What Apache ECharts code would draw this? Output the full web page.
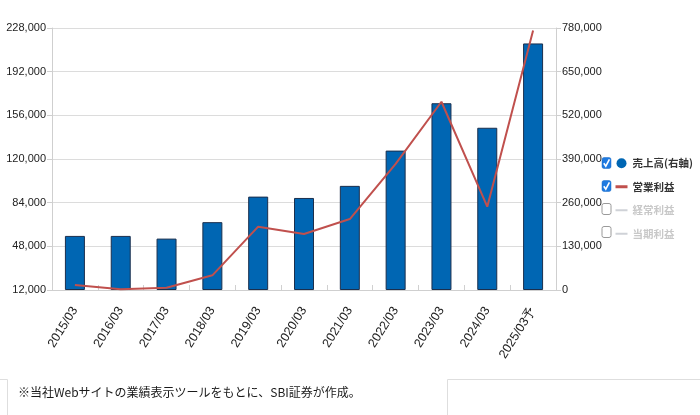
<!DOCTYPE html>
<html>
<head>
<meta charset="utf-8">
<script src="https://cdn.jsdelivr.net/npm/echarts@6/dist/echarts.min.js"></script>
<style>
html,body{margin:0;padding:0;background:#fff;}
#chart{width:700px;height:415px;}
</style>
</head>
<body>
<div id="chart"></div>
<script>
// ---- data ----
var categories = ['2015/03','2016/03','2017/03','2018/03','2019/03','2020/03','2021/03','2022/03','2023/03','2024/03','2025/03予'];
var salesRight = [161000, 161000, 153000, 202000, 278000, 274000, 310000, 415000, 556000, 483000, 734000]; // 売上高(右軸)
var opProfit = [16100, 12600, 13900, 24100, 64200, 58200, 70500, 116000, 167200, 80700, 226000];          // 営業利益
var ordinaryProfit = []; // 経常利益 (hidden)
var netProfit = [];      // 当期利益 (hidden)
var leftTicks = [12000, 48000, 84000, 120000, 156000, 192000, 228000];
var rightTicks = [0, 130000, 260000, 390000, 520000, 650000, 780000];
var legendNames = ['売上高(右軸)', '営業利益', '経常利益', '当期利益'];
var note = '※当社Webサイトの業績表示ツールをもとに、SBI証券が作成。';

function fmt(v){ return String(v).replace(/\B(?=(\d{3})+(?!\d))/g, ','); }

var axisFont = 'Liberation Sans, Arial, sans-serif';
var cjkFont = '"Noto Sans CJK JP", sans-serif';

var chart = echarts.init(document.getElementById('chart'), null, {renderer: 'canvas'});

function checkbox(y, checked){
  var els = [{
    type: 'rect',
    shape: {x: 602, y: y - 5.5, width: 9, height: 11, r: 2},
    style: checked ? {fill: '#1f7ae0', stroke: '#1a6cc9', lineWidth: 0.5} : {fill: '#fff', stroke: '#9a9a9a', lineWidth: 1}
  }];
  if (checked) {
    els.push({
      type: 'polyline',
      shape: {points: [[603.8, y + 0.2], [605.8, y + 3.2], [609.4, y - 3.6]]},
      style: {stroke: '#fff', lineWidth: 1.6, fill: null}
    });
  }
  return els;
}

var graphics = [].concat(
  checkbox(163, true), checkbox(186, true), checkbox(209, false), checkbox(232, false),
  [
    {type: 'polyline', shape: {points: [[0, 379.5], [7.5, 379.5], [7.5, 415]]}, style: {stroke: '#dedede', lineWidth: 1, fill: null}},
    {type: 'polyline', shape: {points: [[447.5, 415], [447.5, 379.5], [700, 379.5]]}, style: {stroke: '#dedede', lineWidth: 1, fill: null}},
    {type: 'text', left: 18, top: 386, style: {text: note, font: '12px ' + cjkFont, fill: '#1a1a1a'}}
  ]
);

var hideSym = {opacity: 0};

var option = {
  backgroundColor: '#fff',
  animation: false,
  grid: {left: 52, right: 144, top: 28, bottom: 125, containLabel: false},
  legend: {
    orient: 'vertical',
    left: 614,
    top: 158,
    padding: 0,
    itemWidth: 12,
    itemHeight: 10,
    itemGap: 13,
    itemTextGap: 5,
    inactiveColor: '#c8c8c8',
    textStyle: {fontFamily: cjkFont, fontSize: 10.5, fontWeight: 'bold', color: '#333'},
    selected: {'経常利益': false, '当期利益': false},
    data: [
      {name: legendNames[0], icon: 'circle', itemStyle: {borderWidth: 0, color: '#0066b3'}},
      {name: legendNames[1], itemStyle: hideSym},
      {name: legendNames[2], itemStyle: hideSym},
      {name: legendNames[3], itemStyle: hideSym}
    ],
    lineStyle: {width: 3}
  },
  xAxis: {
    type: 'category',
    data: categories,
    boundaryGap: true,
    axisLine: {show: true, lineStyle: {color: '#cfcfcf', width: 1}},
    axisTick: {show: true, inside: true, length: 5, alignWithLabel: false, lineStyle: {color: '#d0d0d0'}},
    axisLabel: {rotate: 58, margin: 18, fontSize: 12.5, fontFamily: axisFont, color: '#222', interval: 0}
  },
  yAxis: [
    {
      type: 'value',
      position: 'left',
      min: 12000,
      max: 228000,
      axisLine: {show: true, lineStyle: {color: '#cfcfcf'}},
      axisTick: {show: true, length: 5, customValues: leftTicks, lineStyle: {color: '#cfcfcf'}},
      axisLabel: {customValues: leftTicks, margin: 6, fontSize: 11, fontFamily: axisFont, color: '#222', formatter: fmt},
      splitLine: {show: false}
    },
    {
      type: 'value',
      position: 'right',
      min: rightTicks[0],
      max: rightTicks[rightTicks.length - 1],
      interval: 130000,
      axisLine: {show: true, lineStyle: {color: '#cfcfcf'}},
      axisTick: {show: true, length: 5, lineStyle: {color: '#cfcfcf'}},
      axisLabel: {margin: 6, fontSize: 11, fontFamily: axisFont, color: '#222', formatter: fmt},
      splitLine: {show: true, lineStyle: {color: '#dcdcdc', width: 1}}
    }
  ],
  series: [
    {
      name: legendNames[0],
      type: 'bar',
      yAxisIndex: 1,
      data: salesRight,
      barWidth: 20,
      itemStyle: {color: '#0066b3', borderColor: '#1b2f4d', borderWidth: 1}
    },
    {
      name: legendNames[1],
      type: 'line',
      yAxisIndex: 0,
      data: opProfit,
      symbol: 'none',
      lineStyle: {color: '#c0504d', width: 2},
      itemStyle: {color: '#c0504d'}
    },
    {
      name: legendNames[2],
      type: 'line',
      yAxisIndex: 0,
      data: ordinaryProfit,
      symbol: 'none',
      lineStyle: {color: '#9bbb59', width: 2},
      itemStyle: {color: '#9bbb59'}
    },
    {
      name: legendNames[3],
      type: 'line',
      yAxisIndex: 0,
      data: netProfit,
      symbol: 'none',
      lineStyle: {color: '#8064a2', width: 2},
      itemStyle: {color: '#8064a2'}
    }
  ],
  graphic: graphics
};
chart.setOption(option);
</script>
</body>
</html>
